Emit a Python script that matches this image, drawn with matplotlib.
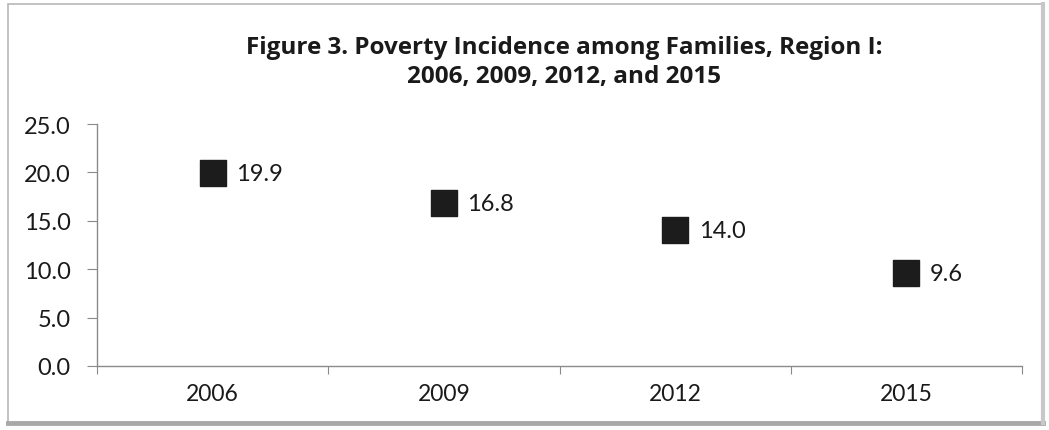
import matplotlib
matplotlib.use("Agg")
import matplotlib.pyplot as plt
from matplotlib.patches import Rectangle

# Poverty incidence among families, Region I
years = ["2006", "2009", "2012", "2015"]
incidence = [19.9, 16.8, 14.0, 9.6]
y_ticks = [0.0, 5.0, 10.0, 15.0, 20.0, 25.0]
title_lines = ["Figure 3. Poverty Incidence among Families, Region I:",
               "2006, 2009, 2012, and 2015"]

W, H = 1049, 431
plt.rcParams["font.family"] = ["Lato", "DejaVu Sans"]
fig = plt.figure(figsize=(W / 100, H / 100), dpi=100)
fig.patch.set_facecolor("white")

# outer chart frame: light on top/left, heavier on bottom/right
fig.add_artist(Rectangle((8 / W, 1 - 425 / H), (1043 - 8) / W, (425 - 5) / H,
                         transform=fig.transFigure, fill=False,
                         edgecolor="#b8b8b8", linewidth=1.2))
fig.add_artist(plt.Line2D([8 / W, 1043 / W], [1 - 424 / H, 1 - 424 / H],
                          transform=fig.transFigure, color="#a8a8a8", linewidth=3.5))
fig.add_artist(plt.Line2D([1043 / W, 1043 / W], [1 - 424 / H, 1 - 5 / H],
                          transform=fig.transFigure, color="#c8c8c8", linewidth=3))

left, right = 97 / W, 1022 / W
bottom, top = 1 - 367 / H, 1 - 125 / H
ax = fig.add_axes([left, bottom, right - left, top - bottom])

x = list(range(len(years)))
ax.scatter(x, incidence, marker="s", s=330, color="#1c1c1c", zorder=3)
for xi, v in zip(x, incidence):
    ax.annotate(f"{v:.1f}", (xi, v), xytext=(17, 0), textcoords="offset points",
                va="center", ha="left", fontsize=17, color="#1a1a1a")

ax.set_xlim(-0.5, len(years) - 0.5)
ax.set_ylim(0, 25)
ax.set_yticks(y_ticks)
ax.set_yticklabels([f"{t:.1f}" for t in y_ticks], fontsize=17, color="#1a1a1a")

# category labels centred, tick marks on the boundaries
ax.set_xticks([i - 0.5 for i in range(len(years) + 1)])
ax.set_xticklabels([])
ax.set_xticks(x, minor=True)
ax.set_xticklabels(years, minor=True, fontsize=16.5, color="#1a1a1a")
ax.tick_params(axis="x", which="minor", length=0, pad=12)
ax.tick_params(axis="x", which="major", length=6, color="#8a8a8a", direction="out")
ax.tick_params(axis="y", length=7, color="#8a8a8a", direction="out", pad=12)

for s in ("top", "right"):
    ax.spines[s].set_visible(False)
for s in ("left", "bottom"):
    ax.spines[s].set_color("#8a8a8a")
    ax.spines[s].set_linewidth(1.0)

for i, line in enumerate(title_lines):
    fig.text(0.538, 1 - (48 + 29 * i) / H, line, ha="center", va="center",
             fontsize=17.5, fontweight="bold", color="#1a1a1a",
             family=["Open Sans", "DejaVu Sans"])

fig.savefig("out.png", dpi=100, facecolor="white")
